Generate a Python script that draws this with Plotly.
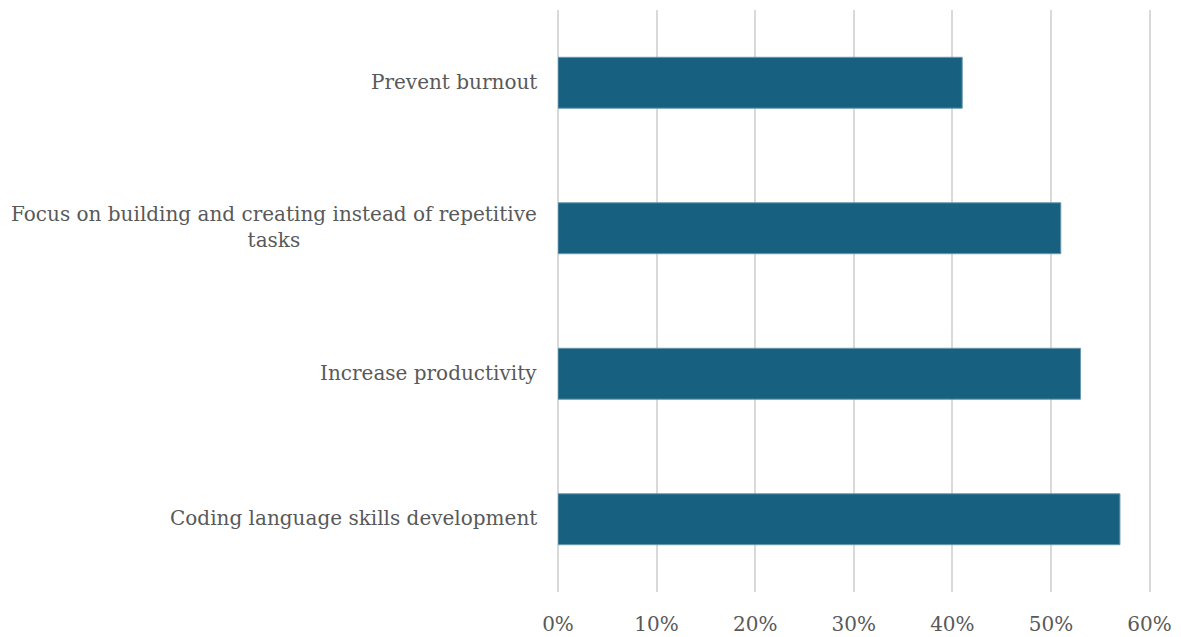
import plotly.graph_objects as go

# Survey responses, listed top to bottom
categories = [
    "Prevent burnout",
    "Focus on building and creating instead of repetitive<br>tasks",
    "Increase productivity",
    "Coding language skills development",
]
shares = [0.41, 0.51, 0.53, 0.57]
x_ticks = [0, 0.1, 0.2, 0.3, 0.4, 0.5, 0.6]
x_tick_labels = ["0%", "10%", "20%", "30%", "40%", "50%", "60%"]

FONT = "DejaVu Serif"
FONT_SIZE = 20
TEXT_COLOR = "#595959"
BAR_COLOR = "#17607F"
GRID_COLOR = "#d9d9d9"

fig = go.Figure(
    go.Bar(
        x=shares,
        y=categories,
        orientation="h",
        marker=dict(color=BAR_COLOR, line=dict(color="#6a98ad", width=1)),
        hoverinfo="skip",
    )
)

# Category labels as annotations so wrapped lines stay centred
for cat in categories:
    fig.add_annotation(
        x=0, xref="paper", y=cat, yref="y",
        text=cat, showarrow=False,
        xanchor="right", yanchor="middle", align="center",
        xshift=-19, yshift=1,
        font=dict(family=FONT, size=FONT_SIZE, color=TEXT_COLOR),
    )

fig.update_layout(
    width=1181,
    height=637,
    margin=dict(l=558, r=30, t=10, b=45, autoexpand=False),
    paper_bgcolor="white",
    plot_bgcolor="white",
    bargap=0.65,
    showlegend=False,
    font=dict(family=FONT, size=FONT_SIZE, color=TEXT_COLOR),
)

fig.update_xaxes(
    range=[0, 0.6015],
    tickvals=x_ticks,
    ticktext=x_tick_labels,
    showgrid=True,
    gridcolor=GRID_COLOR,
    gridwidth=1.5,
    zeroline=True,
    zerolinecolor=GRID_COLOR,
    zerolinewidth=1.5,
    showline=False,
    ticks="",
    automargin=False,
    ticklabelstandoff=18,
    tickfont=dict(family=FONT, size=FONT_SIZE, color=TEXT_COLOR),
)

fig.update_yaxes(
    categoryorder="array",
    categoryarray=categories[::-1],
    showticklabels=False,
    showgrid=False,
    zeroline=False,
    showline=False,
    ticks="",
    automargin=False,
)

fig.write_html("out.html")
